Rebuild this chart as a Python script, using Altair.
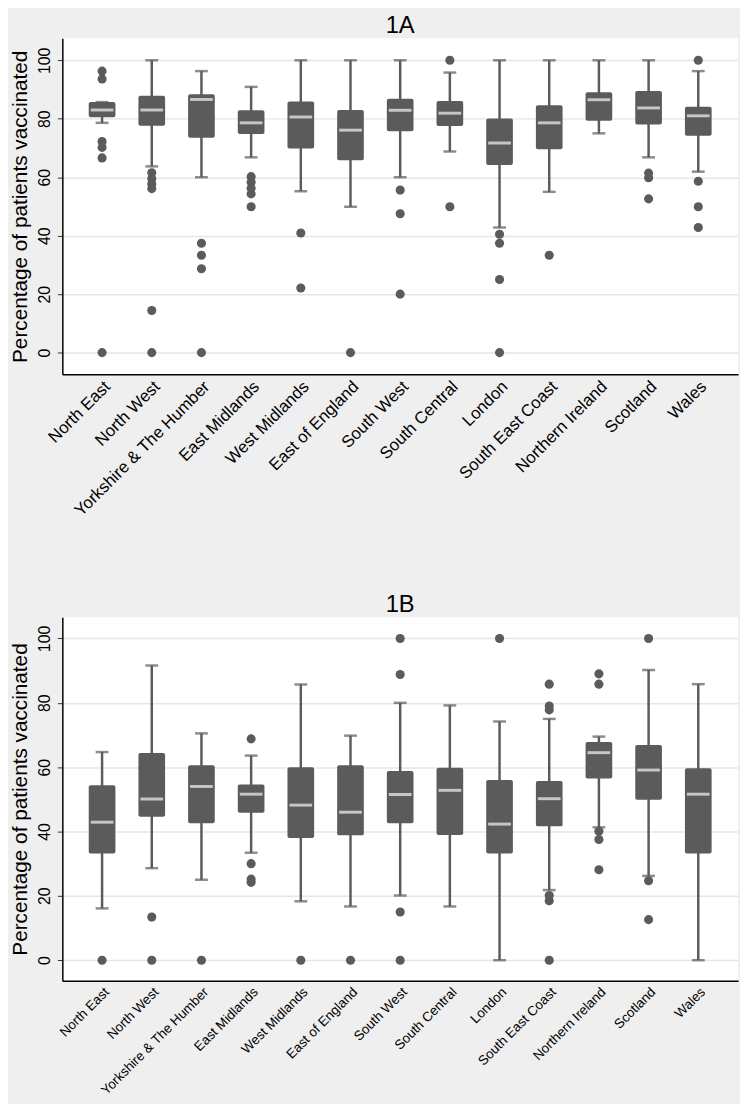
import altair as alt
import pandas as pd

regions = ["North East", "North West", "Yorkshire & The Humber", "East Midlands",
           "West Midlands", "East of England", "South West", "South Central",
           "London", "South East Coast", "Northern Ireland", "Scotland", "Wales"]

# Panel 1A box statistics
a_low = [78.6, 63.7, 60.0, 66.8, 55.2, 49.9, 60.0, 68.8, 42.8, 55.0, 75.0, 66.8, 61.9]
a_q1 = [80.5, 77.6, 73.5, 74.8, 69.8, 65.8, 75.7, 77.5, 64.2, 69.6, 79.3, 78.0, 74.2]
a_med = [83.0, 83.0, 86.6, 78.6, 80.6, 76.1, 82.9, 81.9, 71.7, 78.6, 86.5, 83.7, 81.0]
a_q3 = [85.7, 87.9, 88.4, 82.9, 85.9, 83.0, 86.8, 86.1, 80.1, 84.6, 89.1, 89.5, 84.1]
a_high = [85.7, 100, 96.3, 90.9, 100, 100, 100, 95.8, 100, 100, 100, 100, 96.3]
a_out_region = (["North East"] * 6 + ["North West"] * 6 + ["Yorkshire & The Humber"] * 4 +
                ["East Midlands"] * 5 + ["West Midlands"] * 2 + ["East of England"] +
                ["South West"] * 3 + ["South Central"] * 2 + ["London"] * 4 +
                ["South East Coast"] + ["Scotland"] * 3 + ["Wales"] * 4)
a_out_value = ([96.3, 93.6, 72.2, 70.2, 66.6, 0] + [61.5, 59.5, 57.7, 56.1, 14.4, 0] +
               [37.4, 33.3, 28.7, 0] + [60.2, 58.3, 56.2, 54.3, 49.9] + [40.9, 22.1] + [0] +
               [55.6, 47.5, 20.0] + [100, 49.9] + [40.5, 37.4, 25.0, 0] +
               [33.3] + [61.4, 59.8, 52.6] + [100, 58.6, 49.9, 42.8])

# Panel 1B box statistics
b_low = [16.1, 28.6, 25.0, 33.4, 18.3, 16.7, 20.1, 16.7, 0, 21.8, 41.3, 26.2, 0]
b_q1 = [33.2, 44.6, 42.6, 45.8, 38.0, 38.8, 42.6, 38.9, 33.2, 41.6, 56.5, 49.9, 33.2]
b_med = [42.9, 50.1, 54.0, 51.6, 48.2, 46.0, 51.5, 52.8, 42.3, 50.2, 64.5, 59.1, 51.6]
b_q3 = [54.4, 64.4, 60.6, 54.6, 60.0, 60.6, 58.8, 59.8, 56.0, 55.7, 67.8, 66.9, 59.7]
b_high = [64.7, 91.6, 70.5, 63.6, 85.7, 69.8, 80.0, 79.2, 74.2, 75.0, 69.5, 90.2, 85.8]
b_out_region = (["North East"] + ["North West"] * 2 + ["Yorkshire & The Humber"] +
                ["East Midlands"] * 4 + ["West Midlands"] + ["East of England"] +
                ["South West"] * 4 + ["London"] + ["South East Coast"] * 6 +
                ["Northern Ireland"] * 5 + ["Scotland"] * 3)
b_out_value = ([0] + [13.4, 0] + [0] + [68.8, 30.0, 25.2, 24.2] + [0] + [0] +
               [100, 88.8, 15.0, 0] + [100] + [85.8, 79.0, 77.8, 20.1, 18.5, 0] +
               [89.0, 85.8, 40.1, 37.5, 28.1] + [100, 24.7, 12.6])

C = "#5b5b5b"
YTITLE = "Percentage of patients vaccinated"


def panel(title, lo, q1, med, q3, hi, out_r, out_v, height, ydomain, xlab_size):
    stats = pd.DataFrame({"region": regions, "lo": lo, "q1": q1, "med": med,
                          "q3": q3, "hi": hi})
    outs = pd.DataFrame({"region": out_r, "value": out_v})
    x = alt.X("region:N", sort=regions, title=None,
              scale=alt.Scale(paddingInner=0, paddingOuter=0.3),
              axis=alt.Axis(labelAngle=-45, labelFontSize=xlab_size, labelColor="black",
                            domainColor="black", domainWidth=1.5, ticks=False,
                            grid=False, labelPadding=4, labelLimit=400))
    ys = alt.Scale(domain=ydomain, nice=False, zero=False)
    yaxis = alt.Axis(values=[0, 20, 40, 60, 80, 100], labelAngle=270,
                     labelAlign="center", labelBaseline="bottom")
    base = alt.Chart(stats).encode(x=x)
    whisk = base.mark_rule(color=C, strokeWidth=2.5).encode(
        y=alt.Y("lo:Q", scale=ys, axis=yaxis, title=YTITLE), y2="hi:Q")
    cap_lo = base.mark_tick(color=C, size=13, thickness=2.5).encode(
        y=alt.Y("lo:Q", scale=ys, axis=yaxis, title=YTITLE))
    cap_hi = base.mark_tick(color=C, size=13, thickness=2.5).encode(
        y=alt.Y("hi:Q", scale=ys, axis=yaxis, title=YTITLE))
    box = base.mark_bar(color=C, size=27, cornerRadius=2).encode(
        y=alt.Y("q1:Q", scale=ys, axis=yaxis, title=YTITLE), y2="q3:Q")
    mid = base.mark_tick(color="#f3f3f3", size=23, thickness=3).encode(
        y=alt.Y("med:Q", scale=ys, axis=yaxis, title=YTITLE))
    pts = alt.Chart(outs).mark_circle(color=C, size=85, opacity=1).encode(
        x=x, y=alt.Y("value:Q", scale=ys, axis=yaxis, title=YTITLE))
    return alt.layer(whisk, cap_lo, cap_hi, box, mid, pts).properties(
        width=684, height=height,
        title=alt.TitleParams(title, fontSize=24, fontWeight="normal", color="black",
                              anchor="middle", offset=0))


top = panel("1A", a_low, a_q1, a_med, a_q3, a_high, a_out_region, a_out_value,
            340, [-7.4, 107.5], 17)
bottom = panel("1B", b_low, b_q1, b_med, b_q3, b_high, b_out_region, b_out_value,
               368, [-6.4, 106.6], 13.5)

chart = alt.vconcat(top, bottom, spacing=75).configure(
    background="#efefef",
    padding={"left": 2, "top": 0, "right": 2, "bottom": 0},
    font="Liberation Sans",
).configure_view(fill="white", stroke=None).configure_axisY(
    labelAngle=270, labelAlign="center", labelBaseline="bottom", labelFontSize=16,
    labelColor="black", titleFontSize=21, titleColor="black",
    titleFontWeight="normal", titlePadding=6, labelPadding=5,
    domainColor="black", domainWidth=1.5, tickColor="#333333",
    tickSize=5, tickWidth=1, grid=True, gridColor="#e6e6e6", gridWidth=1.5)

chart.save("out.html", embed_options={"renderer": "svg", "actions": False})
